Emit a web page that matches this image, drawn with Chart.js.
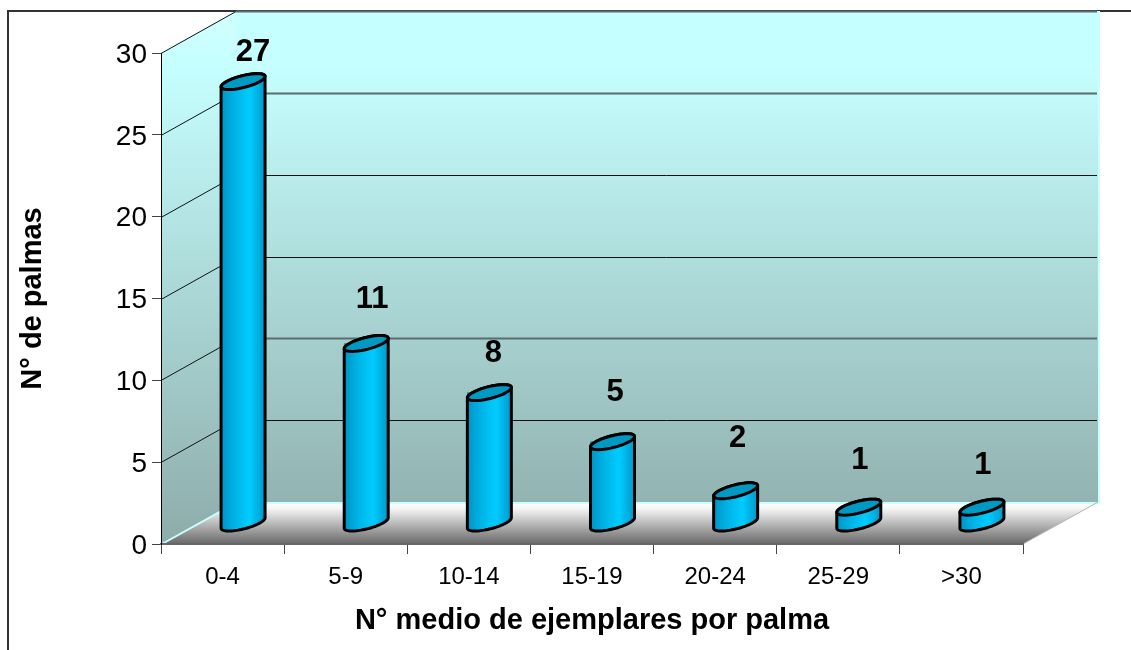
<!DOCTYPE html>
<html>
<head>
<meta charset="utf-8">
<style>
    body { margin: 0; background: #fff; }
    canvas { display: block; }
</style>
<script src="https://cdn.jsdelivr.net/npm/chart.js@4"></script>
</head>
<body>
<canvas id="canvas_grafico" width="1131" height="650"></canvas>
<script>
const categorias = ['0-4', '5-9', '10-14', '15-19', '20-24', '25-29', '>30'];
const palmas = [27, 11, 8, 5, 2, 1, 1];
const ticksY = [0, 5, 10, 15, 20, 25, 30];
const tituloX = 'N° medio de ejemplares por palma';
const tituloY = 'N° de palmas';

// desplazamientos de la perspectiva (no son datos)
const FONDO = { x: 75, y: -42 };
const BASE = { x: 20.5, y: -20.5 };
const ANCHO_BARRA = 44;
const ELIPSE = { a: 16.7, b: 14.3, c: 8 };
const ANG0 = Math.atan2(ELIPSE.b, ELIPSE.a);
// las etiquetas estan movidas a mano en el original
const etiquetaDx = [10, 6, 4, 2.5, 2, 1, 1];
const etiquetaDy = [-29, -44, -39, -49, -52, -47, -42];
// estas lineas se ven grises y mas gruesas en la imagen
const lineasGrises = [25, 10];

function puntoElipse(cx, cy, t) {
    return [
        cx + ELIPSE.a * Math.cos(t) + ELIPSE.b * Math.sin(t),
        cy - ELIPSE.c * Math.sin(t)
    ];
}

function arco(ctx, cx, cy, desde, hasta) {
    for (let i = 0; i <= 40; i++) {
        const p = puntoElipse(cx, cy, desde + (hasta - desde) * i / 40);
        ctx.lineTo(p[0], p[1]);
    }
}

function silueta(ctx, x, yTop, yBase) {
    ctx.beginPath();
    arco(ctx, x, yTop, ANG0, ANG0 + Math.PI);
    arco(ctx, x, yBase, ANG0 + Math.PI, ANG0 + 2 * Math.PI);
    ctx.closePath();
}

function degradadoBarra(ctx, x) {
    const g = ctx.createLinearGradient(x - ANCHO_BARRA / 2, 0, x + ANCHO_BARRA / 2, 0);
    g.addColorStop(0, '#0094c6');
    g.addColorStop(0.3, '#00b2e4');
    g.addColorStop(0.65, '#00ccff');
    g.addColorStop(1, '#0098c8');
    return g;
}

const pluginPerspectiva = {
    id: 'perspectiva',
    beforeDraw(chart) {
        const ctx = chart.ctx;
        const area = chart.chartArea;
        const escalaY = chart.scales.y;

        ctx.save();
        ctx.fillStyle = '#fff';
        ctx.fillRect(0, 0, chart.width, chart.height);

        // marco
        ctx.strokeStyle = '#333';
        ctx.lineWidth = 2;
        ctx.beginPath();
        ctx.moveTo(8, chart.height);
        ctx.lineTo(8, 11);
        ctx.lineTo(chart.width, 11);
        ctx.stroke();

        // pared del fondo y pared lateral
        const pared = ctx.createLinearGradient(0, area.top + FONDO.y, 0, area.bottom);
        pared.addColorStop(0, '#c6ffff');
        pared.addColorStop(0.1, '#c6ffff');
        pared.addColorStop(1, '#8dacaa');
        ctx.fillStyle = pared;
        ctx.fillRect(area.left + FONDO.x, area.top + FONDO.y, area.width + 1, area.height);

        const lateral = ctx.createLinearGradient(0, area.top + FONDO.y, 0, area.bottom);
        lateral.addColorStop(0, '#d2ffff');
        lateral.addColorStop(0.1, '#c6ffff');
        lateral.addColorStop(1, '#8dacaa');
        ctx.fillStyle = lateral;
        ctx.beginPath();
        ctx.moveTo(area.left, area.top);
        ctx.lineTo(area.left + FONDO.x, area.top + FONDO.y);
        ctx.lineTo(area.left + FONDO.x, area.bottom + FONDO.y);
        ctx.lineTo(area.left, area.bottom);
        ctx.closePath();
        ctx.fill();

        // piso
        const piso = ctx.createLinearGradient(0, area.bottom + FONDO.y, 0, area.bottom);
        piso.addColorStop(0, '#ffffff');
        piso.addColorStop(0.15, '#f6f6f6');
        piso.addColorStop(1, '#686868');
        ctx.fillStyle = piso;
        ctx.beginPath();
        ctx.moveTo(area.left, area.bottom);
        ctx.lineTo(area.right, area.bottom);
        ctx.lineTo(area.right + FONDO.x, area.bottom + FONDO.y);
        ctx.lineTo(area.left + FONDO.x, area.bottom + FONDO.y);
        ctx.closePath();
        ctx.fill();

        // bordes claros del piso y de la pared
        ctx.strokeStyle = '#c8ffff';
        ctx.lineWidth = 2;
        ctx.beginPath();
        ctx.moveTo(area.left + 1, area.bottom);
        ctx.lineTo(area.left + FONDO.x, area.bottom + FONDO.y + 1);
        ctx.lineTo(area.right + FONDO.x + 1, area.bottom + FONDO.y + 1);
        ctx.lineTo(area.right + FONDO.x + 1, area.top + FONDO.y);
        ctx.stroke();
        ctx.strokeStyle = '#b4b4b4';
        ctx.lineWidth = 1;
        ctx.beginPath();
        ctx.moveTo(area.right, area.bottom);
        ctx.lineTo(area.right + FONDO.x, area.bottom + FONDO.y);
        ctx.stroke();

        // rejilla
        ticksY.forEach(function (valor) {
            if (valor === 0) return;
            const y = Math.round(escalaY.getPixelForValue(valor)) + 0.5;
            ctx.lineWidth = 1;
            ctx.strokeStyle = '#111';
            ctx.beginPath();
            ctx.moveTo(area.left, y);
            ctx.lineTo(area.left + FONDO.x, y + FONDO.y);
            if (valor !== 30 && !lineasGrises.includes(valor)) {
                ctx.lineTo(area.right + FONDO.x - 1, y + FONDO.y);
            }
            ctx.stroke();
            if (valor === 30 || lineasGrises.includes(valor)) {
                ctx.lineWidth = 2;
                ctx.strokeStyle = '#5c6c6c';
                ctx.beginPath();
                ctx.moveTo(area.left + FONDO.x, y + FONDO.y);
                ctx.lineTo(area.right + FONDO.x - 1, y + FONDO.y);
                ctx.stroke();
            }
        });
        ctx.restore();
    },
    beforeDatasetDraw(chart) {
        const ctx = chart.ctx;
        ctx.save();
        ctx.translate(BASE.x, BASE.y);
        ctx.beginPath();
        chart.getDatasetMeta(0).data.forEach(function (barra) {
            arco(ctx, barra.x, barra.y, ANG0, ANG0 + Math.PI);
            arco(ctx, barra.x, barra.base, ANG0 + Math.PI, ANG0 + 2 * Math.PI);
            ctx.closePath();
        });
        ctx.clip();
    },
    afterDatasetDraw(chart) {
        const ctx = chart.ctx;
        ctx.restore();

        ctx.save();
        ctx.translate(BASE.x, BASE.y);
        ctx.lineJoin = 'round';
        chart.getDatasetMeta(0).data.forEach(function (barra, i) {
            // cuerpo que el rectangulo no cubre, tapa y contorno
            silueta(ctx, barra.x, barra.y, barra.base);
            ctx.fillStyle = degradadoBarra(ctx, barra.x);
            ctx.fill();
            ctx.lineWidth = 3;
            ctx.strokeStyle = '#000';
            ctx.stroke();

            ctx.beginPath();
            arco(ctx, barra.x, barra.y, 0, 2 * Math.PI);
            ctx.closePath();
            ctx.fillStyle = '#0099c4';
            ctx.fill();
            ctx.stroke();
        });
        ctx.restore();
    },
    afterDraw(chart) {
        const ctx = chart.ctx;
        ctx.save();
        ctx.font = 'bold 31px "Liberation Sans"';
        ctx.fillStyle = '#000';
        ctx.textAlign = 'center';
        ctx.textBaseline = 'middle';
        chart.getDatasetMeta(0).data.forEach(function (barra, i) {
            ctx.fillText(
                palmas[i],
                barra.x + BASE.x + etiquetaDx[i],
                barra.y + BASE.y + etiquetaDy[i]
            );
        });
        ctx.restore();
    }
};

const ctx = document.getElementById('canvas_grafico').getContext('2d');
const myChart = new Chart(ctx, {
    type: 'bar',
    data: {
        labels: categorias,
        datasets: [{
            label: tituloY,
            data: palmas,
            barThickness: ANCHO_BARRA,
            borderWidth: 0,
            clip: false,
            backgroundColor: function (c) {
                const x = c.chart.scales.x.getPixelForValue(c.dataIndex);
                // antes del layout la escala todavia no tiene pixeles
                if (!Number.isFinite(x)) return '#00b2e4';
                return degradadoBarra(c.chart.ctx, x);
            }
        }]
    },
    plugins: [pluginPerspectiva],
    options: {
        responsive: false,
        animation: false,
        layout: { padding: { left: 12, right: 108, top: 53, bottom: 8 } },
        plugins: {
            legend: { display: false },
            tooltip: { enabled: false }
        },
        scales: {
            x: {
                afterFit: function (escala) { escala.height = 98; },
                grid: { drawOnChartArea: false, tickLength: 10, color: '#444' },
                border: { color: '#666', width: 2 },
                ticks: {
                    color: '#000',
                    maxRotation: 0,
                    padding: 9,
                    font: { family: 'Liberation Sans', size: 24 }
                },
                title: {
                    display: true,
                    text: tituloX,
                    color: '#000',
                    font: { family: 'Liberation Sans', size: 29, weight: 'bold' }
                }
            },
            y: {
                min: 0,
                max: 30,
                afterFit: function (escala) { escala.width = 149; },
                afterBuildTicks: function (escala) {
                    escala.ticks = ticksY.map(function (v) { return { value: v }; });
                },
                grid: { drawOnChartArea: false, tickLength: 9, color: '#444' },
                border: { color: '#000', width: 1 },
                ticks: {
                    color: '#000',
                    padding: 5,
                    labelOffset: 2,
                    font: { family: 'Liberation Sans', size: 28 }
                },
                title: {
                    display: true,
                    text: tituloY,
                    color: '#000',
                    font: { family: 'Liberation Sans', size: 29, weight: 'bold' }
                }
            }
        }
    }
});
</script>
</body>
</html>
